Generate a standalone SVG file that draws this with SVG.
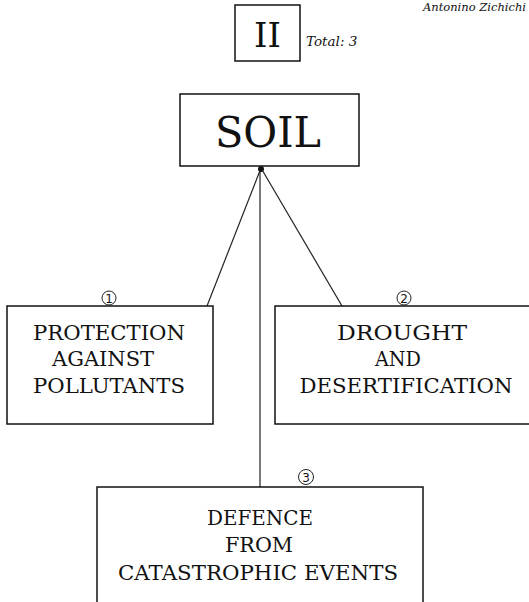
<svg xmlns="http://www.w3.org/2000/svg" width="529" height="602" viewBox="0 0 529 602">
<style>
.box{fill:#fff;stroke:#111;stroke-width:1.5}
.t{font-family:'DejaVu Serif',serif;fill:#111;text-anchor:middle}
.lbl{font-size:21px}
.it{font-family:'DejaVu Serif',serif;font-style:italic;fill:#111}
.line{stroke:#222;stroke-width:1.2;fill:none}
.num circle{fill:#fff;stroke:#222;stroke-width:1}
.num text{font-family:'DejaVu Sans',sans-serif;font-size:12px;fill:#111;text-anchor:middle}
</style>
<rect width="529" height="602" fill="#fff"/>
<text class="it" x="526" y="11" font-size="11.5" text-anchor="end" font-family="DejaVu Serif, serif">Antonino Zichichi</text>
<g id="header">
<rect class="box" x="235" y="5" width="65" height="56"/>
<text class="t" x="267.5" y="47" font-size="34" font-family="DejaVu Serif, serif">II</text>
<text class="it" x="306" y="46" font-size="13.5" font-family="DejaVu Serif, serif">Total: 3</text>
</g>
<g id="connectors">
<line class="line" x1="261" y1="168" x2="207" y2="306"/>
<line class="line" x1="261" y1="168" x2="342" y2="306"/>
<line class="line" x1="260" y1="168" x2="260" y2="487"/>
<circle cx="261" cy="169" r="3" fill="#111"/>
</g>
<g id="soil">
<rect class="box" x="180" y="94" width="179" height="72"/>
<text class="t" x="268" y="147" font-size="42" font-family="DejaVu Serif, serif" textLength="106" lengthAdjust="spacingAndGlyphs">SOIL</text>
</g>
<g id="node1">
<rect class="box" x="7" y="306" width="206" height="118"/>
<text class="t lbl" x="109" y="340" font-family="DejaVu Serif, serif" textLength="152" lengthAdjust="spacingAndGlyphs">PROTECTION</text>
<text class="t lbl" x="103" y="366" font-family="DejaVu Serif, serif" textLength="102" lengthAdjust="spacingAndGlyphs">AGAINST</text>
<text class="t lbl" x="109" y="393" font-family="DejaVu Serif, serif" textLength="152" lengthAdjust="spacingAndGlyphs">POLLUTANTS</text>
<g class="num"><circle cx="109" cy="298" r="7"/><text x="109" y="302.5">1</text></g>
</g>
<g id="node2">
<rect class="box" x="275" y="306" width="260" height="118"/>
<text class="t lbl" x="402" y="340" font-family="DejaVu Serif, serif" textLength="130" lengthAdjust="spacingAndGlyphs">DROUGHT</text>
<text class="t lbl" x="398" y="366" font-family="DejaVu Serif, serif" textLength="46" lengthAdjust="spacingAndGlyphs">AND</text>
<text class="t lbl" x="406" y="393" font-family="DejaVu Serif, serif" textLength="213" lengthAdjust="spacingAndGlyphs">DESERTIFICATION</text>
<g class="num"><circle cx="404" cy="298" r="7"/><text x="404" y="302.5">2</text></g>
</g>
<g id="node3">
<rect class="box" x="97" y="487" width="326" height="130"/>
<text class="t lbl" x="260" y="525" font-family="DejaVu Serif, serif" textLength="106" lengthAdjust="spacingAndGlyphs">DEFENCE</text>
<text class="t lbl" x="259" y="552" font-family="DejaVu Serif, serif" textLength="68" lengthAdjust="spacingAndGlyphs">FROM</text>
<text class="t lbl" x="258" y="580" font-family="DejaVu Serif, serif" textLength="280" lengthAdjust="spacingAndGlyphs">CATASTROPHIC EVENTS</text>
<g class="num"><circle cx="306" cy="477" r="7.5"/><text x="306" y="481.5">3</text></g>
</g>
</svg>
